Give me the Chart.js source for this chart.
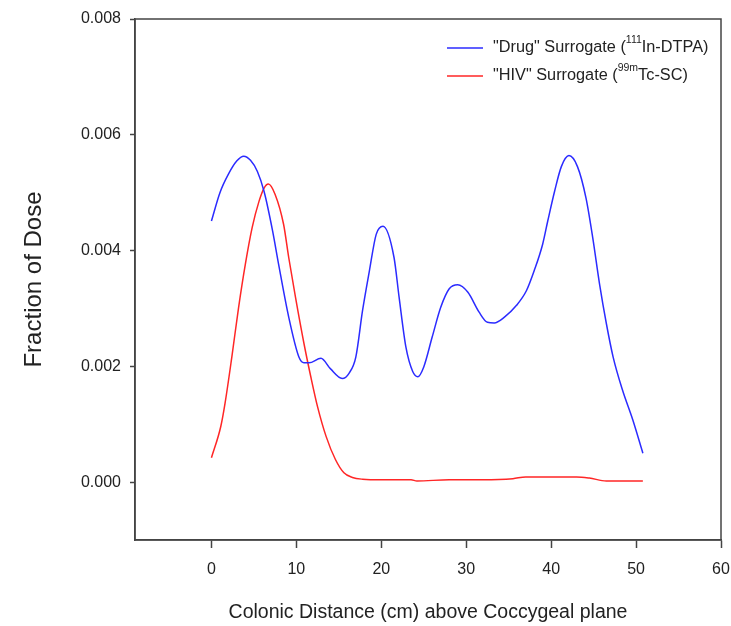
<!DOCTYPE html>
<html>
<head>
<meta charset="utf-8">
<script src="https://cdn.jsdelivr.net/npm/chart.js@4"></script>
<style>
  body { margin: 0; background: #fff; }
  #wrap { width: 731px; height: 626px; position: relative; }
</style>
</head>
<body>
<div id="wrap"><canvas id="doseChart"></canvas></div>
<script>
// colonic distance (cm) vs fraction of dose
const drugX = [0, 1, 2, 3, 3.8, 4.6, 5.4, 6.2, 7.2, 7.9, 9.1, 10.3, 10.9, 11.5, 12.9, 14.0, 15.4, 16.2, 17.0, 17.8,
  18.6, 19.4, 20.2, 21.5, 22.1, 22.9, 23.7, 24.3, 25.0, 26.0, 27.0, 28.0, 29.0, 30.2, 31.5, 32.5, 33.3, 34.5, 35.9,
  37.1, 38.0, 39.0, 39.6, 40.4, 41.2, 42.1, 43.1, 44.1, 44.9, 45.7, 46.5, 47.3, 48.4, 49.6, 50.8];
const drugY = [0.00451, 0.00500, 0.00532, 0.00555, 0.00563, 0.00556, 0.00537, 0.00502, 0.00434, 0.00377, 0.00285,
  0.00216, 0.00206, 0.00206, 0.00214, 0.00196, 0.00179, 0.00188, 0.00216, 0.00297, 0.00365, 0.00428, 0.00442,
  0.00388, 0.00319, 0.00233, 0.00191, 0.00182, 0.00199, 0.00251, 0.00302, 0.00334, 0.00341, 0.00328, 0.00294,
  0.00276, 0.00275, 0.00285, 0.00305, 0.00331, 0.00365, 0.00411, 0.00451, 0.00502, 0.00545, 0.00564, 0.00545,
  0.00491, 0.00422, 0.00342, 0.00274, 0.00216, 0.00159, 0.00108, 0.00050];

const hivX = [0, 1.1, 1.6, 2.4, 3.2, 4.0, 4.8, 5.6, 6.2, 6.7, 7.5, 8.5, 9.1, 9.9, 10.9, 11.7, 12.5, 13.5, 14.6, 15.6,
  16.6, 17.8, 20, 23.5, 24.2, 28, 32, 35.5, 37, 40, 43, 44.5, 46.5, 48, 50.8];
const hivY = [0.00042, 0.00096, 0.00136, 0.00216, 0.00302, 0.00377, 0.00440, 0.00485, 0.00508, 0.00515, 0.00497,
  0.00445, 0.00388, 0.00319, 0.00239, 0.00182, 0.00130, 0.00079, 0.00039, 0.00016, 0.00008, 0.00005, 0.00004,
  0.00004, 0.00002, 0.00004, 0.00004, 0.00006, 0.00009, 0.00009, 0.00009, 0.00007, 0.00002, 0.00002, 0.00002];

const xTicks = [0, 10, 20, 30, 40, 50, 60];
const yTicks = [0, 0.002, 0.004, 0.006, 0.008];

// legend entries: [before superscript, superscript, after]
const legendItems = [
  { color: '#2b2bff', parts: ['"Drug" Surrogate (', '111', 'In-DTPA)'] },
  { color: '#ff2626', parts: ['"HIV" Surrogate (', '99m', 'Tc-SC)'] }
];

const sans = '"Liberation Sans", Arial, sans-serif';
const frameColor = '#444';

const framePlugin = {
  id: 'frame',
  afterDraw(chart) {
    const { ctx, chartArea: a } = chart;
    ctx.save();
    ctx.strokeStyle = frameColor;
    ctx.lineWidth = 1.5;
    ctx.strokeRect(a.left, a.top, a.right - a.left, a.bottom - a.top);
    ctx.restore();
  }
};

const legendPlugin = {
  id: 'supLegend',
  afterDraw(chart) {
    const ctx = chart.ctx;
    ctx.save();
    legendItems.forEach((item, i) => {
      const y = 48 + i * 28;
      ctx.strokeStyle = item.color;
      ctx.lineWidth = 1.5;
      ctx.beginPath();
      ctx.moveTo(447, y);
      ctx.lineTo(483, y);
      ctx.stroke();
      ctx.fillStyle = '#222';
      ctx.textBaseline = 'middle';
      let x = 493;
      ctx.font = '16.3px ' + sans;
      ctx.fillText(item.parts[0], x, y);
      x += ctx.measureText(item.parts[0]).width;
      ctx.font = '10.5px ' + sans;
      ctx.fillText(item.parts[1], x, y - 8);
      x += ctx.measureText(item.parts[1]).width;
      ctx.font = '16.3px ' + sans;
      ctx.fillText(item.parts[2], x, y);
    });
    ctx.restore();
  }
};

new Chart(document.getElementById('doseChart'), {
  type: 'line',
  data: {
    datasets: [
      {
        data: drugX.map((x, i) => ({ x: x, y: drugY[i] })),
        borderColor: legendItems[0].color,
        borderWidth: 1.5,
        pointRadius: 0,
        cubicInterpolationMode: 'monotone',
        fill: false
      },
      {
        data: hivX.map((x, i) => ({ x: x, y: hivY[i] })),
        borderColor: legendItems[1].color,
        borderWidth: 1.5,
        pointRadius: 0,
        cubicInterpolationMode: 'monotone',
        fill: false
      }
    ]
  },
  options: {
    responsive: true,
    maintainAspectRatio: false,
    animation: false,
    layout: { padding: { left: 0, right: 10, top: 19, bottom: 0 } },
    plugins: { legend: { display: false }, tooltip: { enabled: false } },
    scales: {
      x: {
        type: 'linear',
        min: -9,
        max: 60,
        afterFit(scale) {
          scale.height = 86;
          scale.paddingLeft = 0;
          scale.paddingRight = 0;
        },
        afterBuildTicks(scale) { scale.ticks = xTicks.map(v => ({ value: v })); },
        border: { display: true, color: frameColor, width: 1.5 },
        grid: { drawOnChartArea: false, drawTicks: true, tickLength: 8, tickColor: frameColor, tickWidth: 1.5 },
        ticks: { color: '#222', padding: 12, maxRotation: 0, font: { family: sans, size: 16 }, callback: v => String(v) },
        title: {
          display: true,
          text: 'Colonic Distance (cm) above Coccygeal plane',
          color: '#222',
          font: { family: sans, size: 19.5 },
          padding: { top: 0, bottom: 2 }
        }
      },
      y: {
        min: -0.001,
        max: 0.008,
        afterFit(scale) { scale.width = 135; },
        afterBuildTicks(scale) { scale.ticks = yTicks.map(v => ({ value: v })); },
        border: { display: true, color: frameColor, width: 1.5 },
        grid: { drawOnChartArea: false, drawTicks: true, tickLength: 5, tickColor: frameColor, tickWidth: 1.5 },
        ticks: { color: '#222', padding: 9, font: { family: sans, size: 16 }, callback: v => v.toFixed(3) },
        title: {
          display: true,
          text: 'Fraction of Dose',
          color: '#222',
          font: { family: sans, size: 24 },
          padding: { top: 20, bottom: 0 }
        }
      }
    }
  },
  plugins: [framePlugin, legendPlugin]
});
</script>
</body>
</html>
